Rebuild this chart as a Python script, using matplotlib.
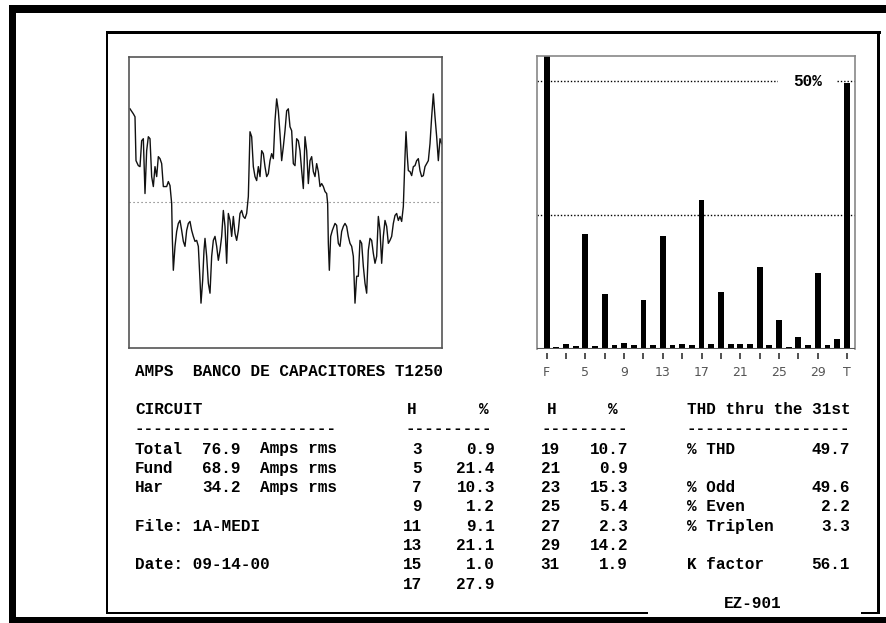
import numpy as np
import matplotlib
matplotlib.use("Agg")
import matplotlib.pyplot as plt
from matplotlib.patches import Rectangle

# ---- data ----
# current waveform (sample number, amps), two cycles
wave_t = [0, 2, 3, 3.6, 5, 6, 7, 8, 9, 10, 11, 12, 13, 14, 15, 16, 17, 18, 19, 20,
          22, 23, 24, 25, 25.4, 26, 27, 28, 29, 30, 31, 32, 33, 34, 35, 36, 37, 38, 39, 40,
          41, 42, 42.6, 43.6, 44.4, 45, 46, 47, 48, 49, 50, 51, 52, 53, 54, 55, 56, 57, 58, 59,
          60, 61, 62, 63, 64, 65, 66, 67, 68, 69, 70, 71, 72, 73, 74, 75, 76, 77, 78, 79,
          80, 81, 82, 83, 84, 85, 86, 87, 88, 89, 90, 91, 92, 93, 94, 95, 96, 97, 98, 99,
          100, 101, 102, 103, 104, 105, 106, 107, 108, 109, 110, 111, 112, 113, 114, 115, 116, 117, 118, 118.6,
          119, 119.6, 120.4, 121.4, 123, 124, 125, 126, 127, 128, 129, 130, 131, 132, 133, 134, 135, 136, 137, 138,
          139, 140, 141, 142, 143, 144, 145, 146, 147, 148, 149, 150, 151, 152, 153, 154, 155, 156, 157, 158,
          159, 160, 161, 162, 163, 164, 165, 165.6, 166.4, 167, 168, 169, 170, 171, 172, 173, 174, 175, 176, 177,
          178, 179, 180, 181, 182, 183, 184, 185, 186, 187]
wave_a = [94, 89, 86, 42, 37, 36, 62, 64, 9, 52, 66, 64, 26, 16, 36, 26, 46, 44, 39, 16,
          16, 21, 17, -1, -36, -68, -44, -29, -21, -18, -28, -39, -44, -28, -21, -19, -28, -34, -39, -38,
          -44, -78, -101, -78, -48, -36, -54, -81, -91, -54, -38, -34, -44, -58, -48, -34, -8, -24, -61, -11,
          -18, -34, -14, -31, -38, -28, -11, -8, -14, -16, -11, 6, 71, 66, 36, 26, 22, 36, 26, 52,
          49, 36, 26, 29, 42, 49, 44, 82, 104, 92, 69, 42, 56, 72, 92, 94, 76, 72, 39, 37,
          64, 62, 52, 32, 14, 66, 52, 19, 42, 46, 31, 26, 39, 31, 16, 19, 16, 11, 9, -1,
          -41, -68, -34, -28, -21, -23, -41, -44, -29, -24, -21, -24, -34, -41, -44, -54, -101, -74, -74, -38,
          -41, -64, -81, -91, -48, -36, -38, -51, -61, -54, -14, -28, -61, -34, -18, -24, -41, -38, -34, -21,
          -13, -11, -18, -14, -19, -4, 46, 71, 46, 32, 31, 27, 36, 37, 42, 44, 32, 26, 27, 36,
          39, 42, 59, 86, 109, 86, 66, 42, 64, 59]

odd_h = [3, 5, 7, 9, 11, 13, 15, 17, 19, 21, 23, 25, 27, 29, 31]
odd_pct = [0.9, 21.4, 10.3, 1.2, 9.1, 21.1, 1.0, 27.9, 10.7, 0.9, 15.3, 5.4, 2.3, 14.2, 1.9]
even_h = [2, 4, 6, 8, 10, 12, 14, 16, 18, 20, 22, 24, 26, 28, 30]
even_pct = [0.3, 0.5, 0.5, 0.7, 0.7, 0.7, 0.8, 0.7, 0.9, 0.9, 0.9, 0.7, 0.4, 0.7, 0.7]
fund_pct = 100.0

title = "AMPS  BANCO DE CAPACITORES T1250"
circ_labels = ["Total", "Fund", "Har"]
circ_amps = [76.9, 68.9, 34.2]
file_name = "1A-MEDI"
date_str = "09-14-00"
thd_labels = ["% THD", "% Odd", "% Even", "% Triplen", "K factor"]
thd_values = [49.7, 49.6, 2.2, 3.3, 56.1]
thd_rows = [0, 2, 3, 4, 6]
model = "EZ-901"

# spectrum: F, 2..31, T (T = total THD)
pct_by_h = dict(zip(odd_h, odd_pct))
pct_by_h.update(dict(zip(even_h, even_pct)))
spectrum = [fund_pct] + [pct_by_h[h] for h in range(2, 32)] + [thd_values[0]]

W, H = 886, 623
fig = plt.figure(figsize=(W / 100, H / 100), dpi=100)
fig.patch.set_facecolor("white")

def rect(l, t, r, b):
    return [l / W, 1 - b / H, (r - l) / W, (b - t) / H]

ov = fig.add_axes([0, 0, 1, 1])
ov.set_xlim(0, W)
ov.set_ylim(H, 0)
ov.axis("off")

# outer and inner frames
for x0, y0, w, h in [(9, 5, 877, 8), (9, 5, 7, 618), (9, 617, 877, 6),
                     (106, 31, 775, 3), (106, 31, 2, 583), (877, 31, 3, 583),
                     (106, 612, 542, 2), (861, 612, 19, 2)]:
    ov.add_patch(Rectangle((x0, y0), w, h, color="black", lw=0))

# waveform
ax1 = fig.add_axes(rect(129, 57, 442, 348))
ax1.plot(wave_t, wave_a, color="#111111", lw=1.0)
ax1.axhline(0, color="#666666", lw=0.8, ls=(0, (1, 2.6)))
ax1.set_xlim(-0.6, 187.2)
ax1.set_ylim(-146, 146)
ax1.set_xticks([])
ax1.set_yticks([])
for s in ax1.spines.values():
    s.set_color("#555555")
    s.set_linewidth(1.2)

# harmonic spectrum
ax2 = fig.add_axes(rect(537, 56, 855, 349))
x = np.arange(len(spectrum))
ax2.bar(x, spectrum, width=0.6, color="black", zorder=2)
ax2.axhline(25, color="black", lw=1.0, ls=(0, (1, 1.4)), zorder=1)
ax2.axhline(50, color="black", lw=1.0, ls=(0, (1, 1.4)), zorder=1)
ax2.axhline(0, color="#555555", lw=1.5, zorder=3)
ax2.text(26.9, 50, "50%", ha="center", va="center", family="Liberation Mono",
         weight="bold", size=11.5, zorder=4,
         bbox=dict(boxstyle="square,pad=0.9", fc="white", ec="none"))
ax2.set_xlim(-1.0, 31.85)
ax2.set_ylim(0, 54.7)
ax2.set_yticks([])
tick_pos = list(range(0, 29, 2)) + [31]
tick_lab = []
for i, p in enumerate(tick_pos[:-1]):
    tick_lab.append("F" if p == 0 else (str(p + 1) if i % 2 == 0 else ""))
tick_lab.append("T")
ax2.set_xticks(tick_pos)
ax2.set_xticklabels(tick_lab)
ax2.spines["bottom"].set_position(("outward", 3))
ax2.spines["bottom"].set_visible(False)
ax2.tick_params(axis="x", length=4.3, width=1.2, color="#333333",
                labelsize=9, labelcolor="#555555", pad=5)
for k in ["top", "left", "right"]:
    ax2.spines[k].set_color("#888888")
    ax2.spines[k].set_linewidth(1.2)

# text report
fm = dict(family="Liberation Mono", weight="bold", size=11.5, va="center", color="black")
rows = [449 + 19.3 * k for k in range(8)]

ov.text(135, 371, title, **fm)
ov.text(135, 410, "CIRCUIT", **fm)
ov.text(135, 428, "-" * 21, **fm)
for k, (lab, amps) in enumerate(zip(circ_labels, circ_amps)):
    ov.text(135, rows[k], lab, **fm)
    ov.text(202, rows[k], f"{amps:.1f}", **fm)
    ov.text(260, rows[k], "Amps rms", **fm)
ov.text(135, rows[4], "File: " + file_name, **fm)
ov.text(135, rows[6], "Date: " + date_str, **fm)

cols = [(odd_h[:8], odd_pct[:8], 412, 484, 406, 422, 495),
        (odd_h[8:], odd_pct[8:], 552, 613, 542, 560, 628)]
for hs, ps, hx, px, dx, hr, pr in cols:
    ov.text(hx, 410, "H", ha="center", **fm)
    ov.text(px, 410, "%", ha="center", **fm)
    ov.text(dx, 428, "-" * 9, **fm)
    for k, (h, p) in enumerate(zip(hs, ps)):
        ov.text(hr, rows[k], str(h), ha="right", **fm)
        ov.text(pr, rows[k], f"{p:.1f}", ha="right", **fm)

ov.text(687, 410, "THD thru the 31st", **fm)
ov.text(687, 428, "-" * 17, **fm)
for lab, val, r in zip(thd_labels, thd_values, thd_rows):
    ov.text(687, rows[r], lab, **fm)
    ov.text(850, rows[r], f"{val:.1f}", ha="right", **fm)
ov.text(753, 604, model, ha="center", **fm)

fig.savefig("out.png", dpi=100)
